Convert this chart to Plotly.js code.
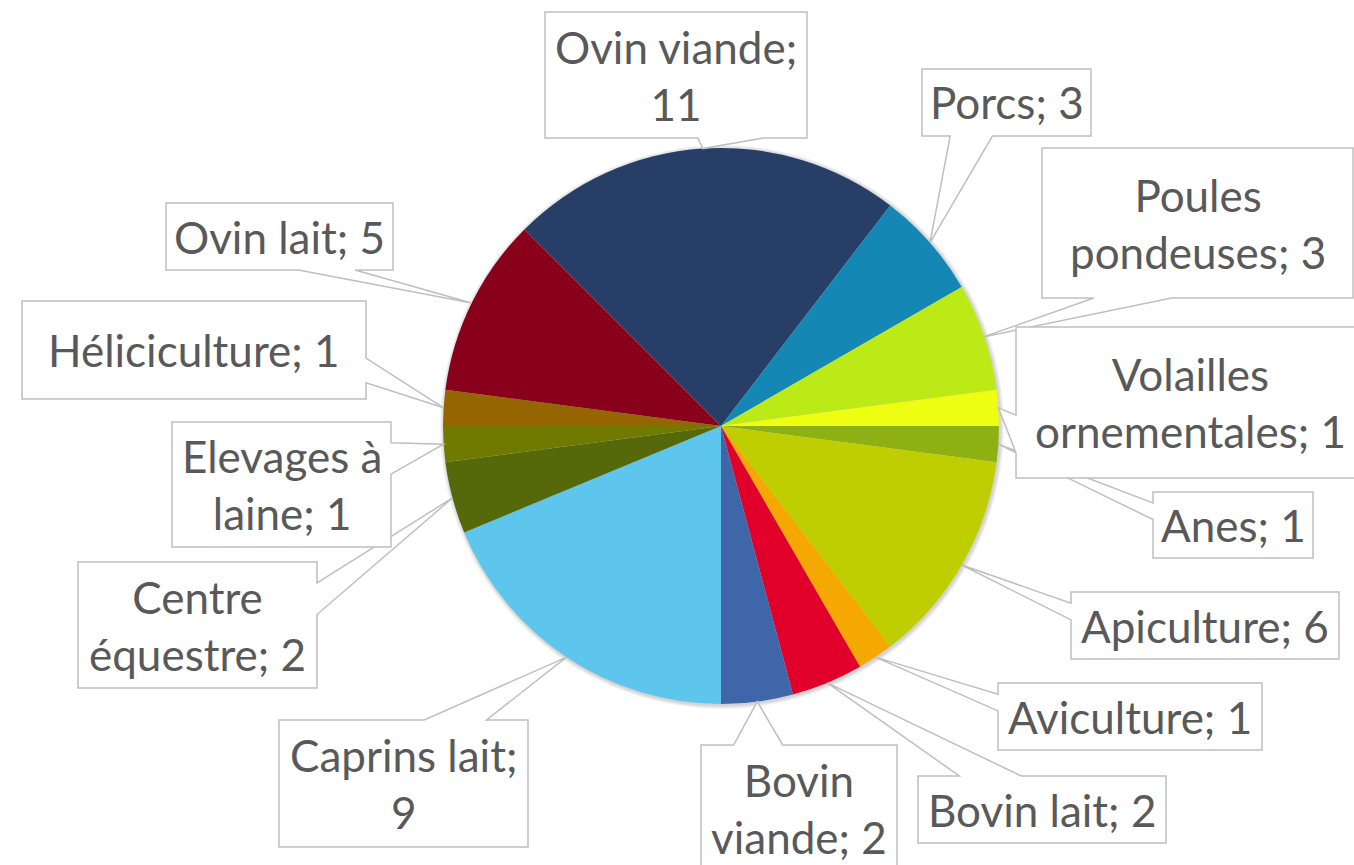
<!DOCTYPE html>
<html>
<head>
<meta charset="utf-8">
<script src="https://cdn.plot.ly/plotly-3.0.1.min.js"></script>
<style>
  html, body { margin: 0; padding: 0; background: #ffffff; }
  #chart { width: 1354px; height: 865px; }
</style>
</head>
<body>
<div id="chart"></div>
<script>
// ---- Data ----
const categories = ['Anes', 'Apiculture', 'Aviculture', 'Bovin lait', 'Bovin viande',
  'Caprins lait', 'Centre équestre', 'Elevages à laine', 'Héliciculture', 'Ovin lait',
  'Ovin viande', 'Porcs', 'Poules pondeuses', 'Volailles ornementales'];
const values = [1, 6, 1, 2, 2, 9, 2, 1, 1, 5, 11, 3, 3, 1];
const colors = ['#8DB012', '#BFCE00', '#F5A800', '#E1002A', '#3F66A8',
  '#5EC5EC', '#55690B', '#717A00', '#946500', '#89001B',
  '#273E67', '#1587B4', '#BBEA17', '#EEFF11'];
// line break after this part of the label (null = one line)
const wrapAfter = [null, null, null, null, 'Bovin', 'Caprins lait;', 'Centre', 'Elevages à',
  null, null, 'Ovin viande;', null, 'Poules', 'Volailles'];

// ---- Layout (pixels) ----
const W = 1354, H = 865;
const CX = 721, CY = 426, R = 278;
const ROT = 90;
// callout boxes [left, top, right, bottom]
const boxes = [
  [1153, 492, 1313, 558],
  [1071, 592, 1339, 659],
  [998, 683, 1262, 750],
  [918, 776, 1166, 843],
  [701, 745, 897, 871],
  [279, 720, 528, 847],
  [78, 562, 317, 688],
  [172, 422, 391, 547],
  [22, 301, 366, 399],
  [166, 203, 393, 270],
  [545, 12, 807, 138],
  [922, 69, 1091, 136],
  [1042, 148, 1353, 298],
  [1016, 327, 1364, 478]
];

const px = x => x / W;
const py = y => 1 - y / H;

const total = values.reduce((a, b) => a + b, 0);

function labelText(i) {
  const full = categories[i] + '; ' + values[i];
  const w = wrapAfter[i];
  if (!w) return full;
  return w + '<br>' + full.slice(w.length).trim();
}

function calloutPath(b, tip) {
  const [l, t, r, bt] = b;
  const w = r - l, h = bt - t;
  const hc = (l + r) / 2, vc = (t + bt) / 2;
  const dx = tip[0] - hc, dy = tip[1] - vc;
  const dq = dx * h / w;
  const dz = Math.abs(dy) - Math.abs(dq);
  const xA = l + w * (dx > 0 ? 7 : 2) / 12, xB = l + w * (dx > 0 ? 10 : 5) / 12;
  const yA = t + h * (dy > 0 ? 7 : 2) / 12, yB = t + h * (dy > 0 ? 10 : 5) / 12;
  const pts = [[l, t]];
  if (dz > 0 && dy < 0) pts.push([xA, t], tip, [xB, t]);
  pts.push([r, t]);
  if (dz <= 0 && dx > 0) pts.push([r, yA], tip, [r, yB]);
  pts.push([r, bt]);
  if (dz > 0 && dy > 0) pts.push([xB, bt], tip, [xA, bt]);
  pts.push([l, bt]);
  if (dz <= 0 && dx < 0) pts.push([l, yB], tip, [l, yA]);
  return 'M' + pts.map(p => px(p[0]).toFixed(5) + ',' + py(p[1]).toFixed(5)).join('L') + 'Z';
}

const shapes = [];
// soft shadow under the pie
for (let k = 4; k >= 1; k--) {
  shapes.push({
    type: 'circle', xref: 'paper', yref: 'paper', layer: 'below',
    x0: px(CX - R - k + 1), x1: px(CX + R + k + 1),
    y0: py(CY + R + k + 1), y1: py(CY - R - k + 1),
    fillcolor: 'rgba(0,0,0,0.045)', line: { width: 0 }
  });
}

const annotations = [];
let cum = 0;
for (let i = 0; i < values.length; i++) {
  const mid = (ROT + (cum + values[i] / 2) / total * 360) * Math.PI / 180;
  cum += values[i];
  const tip = [CX + R * Math.sin(mid), CY - R * Math.cos(mid)];
  shapes.push({
    type: 'path', xref: 'paper', yref: 'paper', layer: 'above',
    path: calloutPath(boxes[i], tip),
    fillcolor: '#ffffff', line: { color: '#BFBFBF', width: 1.5 }
  });
  const b = boxes[i];
  annotations.push({
    xref: 'paper', yref: 'paper',
    x: px((b[0] + b[2]) / 2), y: py((b[1] + b[3]) / 2),
    xanchor: 'center', yanchor: 'middle',
    text: labelText(i), showarrow: false, align: 'center',
    font: { family: 'Lato, "Open Sans", sans-serif', size: 44, color: '#595959' }
  });
}

const trace = {
  type: 'pie',
  labels: categories,
  values: values,
  sort: false,
  direction: 'clockwise',
  rotation: ROT,
  marker: { colors: colors, line: { width: 0 } },
  textinfo: 'none',
  hoverinfo: 'label+value',
  showlegend: false,
  domain: { x: [px(CX - R), px(CX + R)], y: [py(CY + R), py(CY - R)] }
};

const layout = {
  width: W, height: H,
  margin: { l: 0, r: 0, t: 0, b: 0 },
  paper_bgcolor: '#ffffff',
  showlegend: false,
  shapes: shapes,
  annotations: annotations
};

Plotly.newPlot('chart', [trace], layout, { displayModeBar: false, staticPlot: true });
</script>
</body>
</html>
